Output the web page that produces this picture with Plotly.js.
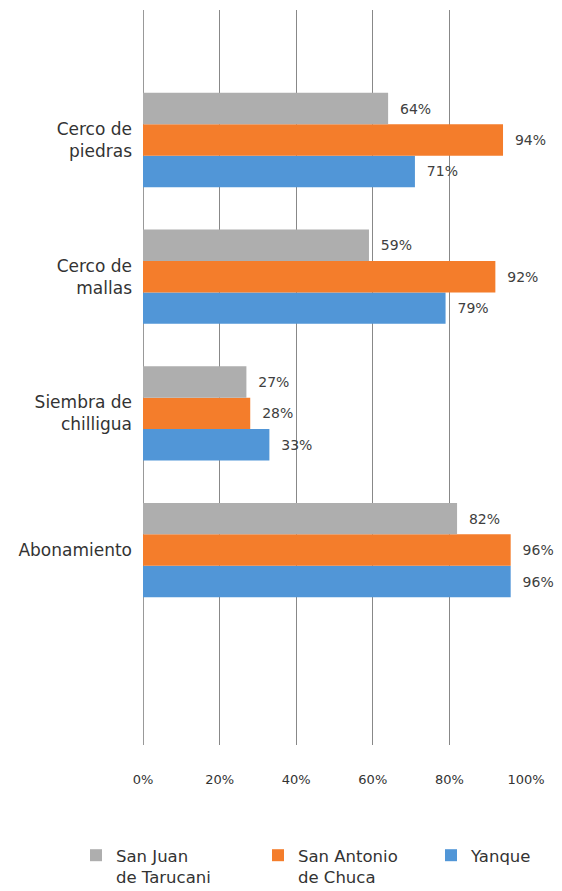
<!DOCTYPE html>
<html>
<head>
<meta charset="utf-8">
<script src="https://cdn.plot.ly/plotly-3.0.1.min.js"></script>
<style>html,body{margin:0;padding:0;background:#fff}#chart{width:562px;height:891px}</style>
</head>
<body>
<div id="chart"></div>
<script>
// Categories, bottom to top as drawn by the axis
const categories = ["Abonamiento", "Siembra de<br>chilligua", "Cerco de<br>mallas", "Cerco de<br>piedras"];
const seriesNames = ["Yanque", "San Antonio<br>de Chuca", "San Juan<br>de Tarucani"];
const yanque = [96, 33, 79, 71];
const sanAntonio = [96, 28, 92, 94];
const sanJuan = [82, 27, 59, 64];
const xTickVals = [0, 20, 40, 60, 80, 100];
const xTickText = ["0%", "20%", "40%", "60%", "80%", "100%"];

const colors = ["#5196D7", "#F47D2B", "#AEAEAE"];
const legendIds = ["legend3", "legend2", "legend"];
const font = "DejaVu Sans, sans-serif";
const seriesValues = [yanque, sanAntonio, sanJuan];

const traces = seriesValues.map((vals, i) => ({
  type: "bar",
  orientation: "h",
  name: seriesNames[i],
  legend: legendIds[i],
  y: categories,
  x: vals,
  marker: {color: colors[i]},
  text: vals.map(v => v + "%"),
  texttemplate: "\u00a0\u00a0%{text}",
  textposition: "outside",
  cliponaxis: false,
  textfont: {family: font, size: 14, color: "#404040"},
  hoverinfo: "none"
}));

const plotLeft = 143, plotWidth = 383;
function legendAt(px) {
  return {
    orientation: "h",
    x: (px - plotLeft) / plotWidth, xanchor: "left", xref: "paper",
    y: -0.1265, yanchor: "top", yref: "paper",
    valign: "top",
    bgcolor: "rgba(0,0,0,0)",
    font: {family: font, size: 16.5, color: "#333"}
  };
}

const layout = {
  width: 562,
  height: 891,
  margin: {l: 143, r: 36, t: 10, b: 146, autoexpand: false},
  paper_bgcolor: "#fff",
  plot_bgcolor: "#fff",
  barmode: "group",
  bargap: 0.31,
  bargroupgap: 0,
  showlegend: true,
  font: {family: font, color: "#333"},
  xaxis: {
    range: [0, 100],
    tickvals: xTickVals,
    ticktext: xTickText,
    showgrid: true,
    gridcolor: "#888888",
    gridwidth: 1,
    zeroline: true,
    zerolinecolor: "#999999",
    zerolinewidth: 1,
    showline: false,
    ticks: "",
    ticklabelstandoff: 25,
    tickfont: {family: font, size: 13, color: "#333"},
    fixedrange: true
  },
  yaxis: {
    type: "category",
    categoryorder: "array",
    categoryarray: categories,
    range: [-1.426, 3.951],
    showgrid: false,
    zeroline: false,
    showline: false,
    ticks: "",
    ticklabelstandoff: 10,
    tickfont: {family: font, size: 17, color: "#333"},
    fixedrange: true
  },
  legend: legendAt(76),
  legend2: legendAt(258),
  legend3: legendAt(431)
};

Plotly.newPlot("chart", traces, layout, {displayModeBar: false, staticPlot: true});
</script>
</body>
</html>
